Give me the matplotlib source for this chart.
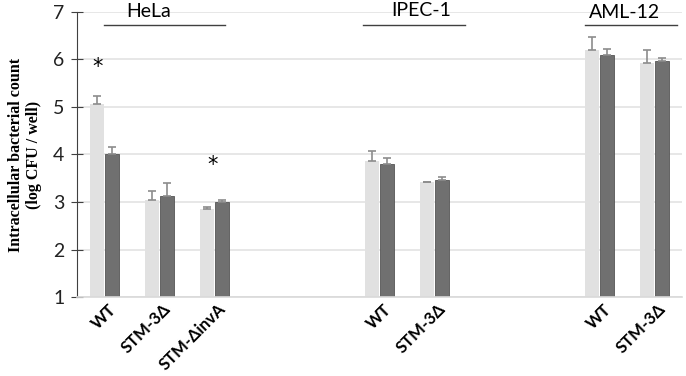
import matplotlib
matplotlib.use('Agg')
import matplotlib.pyplot as plt
import numpy as np

# slot positions (empty slots between cell lines)
positions = [0, 1, 2, 5, 6, 9, 10]
labels = ['WT', 'STM-3Δ', 'STM-ΔinvA', 'WT', 'STM-3Δ', 'WT', 'STM-3Δ']

light_vals = [5.07, 3.05, 2.85, 3.87, 3.42, 6.21, 5.93]
light_err = [0.17, 0.18, 0.04, 0.21, 0.01, 0.27, 0.28]
dark_vals = [4.02, 3.13, 3.00, 3.79, 3.46, 6.10, 5.97]
dark_err = [0.13, 0.27, 0.05, 0.14, 0.06, 0.13, 0.07]

groups = ['HeLa', 'IPEC-1', 'AML-12']
group_spans = [(0.0, 2.2), (4.7, 6.55), (8.74, 10.4)]
group_text_x = [0.8, 5.75, 9.45]
group_text_y = [7.0, 7.04, 6.98]

stars_x = [-0.12, 1.97]
stars_y = [5.84, 3.78]

sans = ['Lato', 'DejaVu Sans']

fig = plt.figure(figsize=(6.86, 3.76), dpi=100)
ax = fig.add_axes([0.1122, 0.2101, 0.882, 0.758])

x = np.array(positions, dtype=float)
w = 0.245
ax.bar(x - 0.135, light_vals, w, color='#e1e1e1', zorder=2)
ax.bar(x + 0.135, dark_vals, w, color='#707070', edgecolor='#555555', linewidth=0.6, zorder=2)
ax.errorbar(x - 0.135, light_vals, yerr=[np.zeros(len(light_err)), light_err], fmt='none',
            ecolor='#8c8c8c', elinewidth=1.2, capsize=3, capthick=1.2, zorder=3)
ax.errorbar(x + 0.135, dark_vals, yerr=[np.zeros(len(dark_err)), dark_err], fmt='none',
            ecolor='#8c8c8c', elinewidth=1.2, capsize=3, capthick=1.2, zorder=3)

ax.set_xlim(-0.5, 10.5)
ax.set_ylim(1, 7)
ax.set_yticks(range(1, 8))
ax.yaxis.grid(True, color='#e3e3e3', linewidth=1.2, zorder=0)
ax.set_axisbelow(True)

for s in ['top', 'right']:
    ax.spines[s].set_visible(False)
ax.spines['left'].set_color('#404040')
ax.spines['bottom'].set_color('#d9d9d9')
ax.spines['bottom'].set_linewidth(1.2)

ax.tick_params(axis='y', direction='inout', length=8, color='#404040', labelsize=14, pad=5,
               labelcolor='#222222')
ax.tick_params(axis='x', length=0, pad=3)
for t in ax.get_yticklabels():
    t.set_family(sans)

ax.set_xticks(x + 0.06)
ax.set_xticklabels(labels, rotation=45, ha='right', va='top', rotation_mode='anchor',
                   fontsize=12, fontweight='bold', family=sans)

ax.set_ylabel('Intracellular bacterial count\n(log CFU / well)', family='Liberation Serif',
              fontweight='bold', fontsize=11.5, labelpad=8)

for name, (a, b), tx, ty in zip(groups, group_spans, group_text_x, group_text_y):
    ax.plot([a, b], [6.73, 6.73], color='#404040', linewidth=1, clip_on=False)
    ax.text(tx, ty, name, ha='center', va='center', fontsize=14, family=sans)

for sx, sy in zip(stars_x, stars_y):
    ax.text(sx, sy, '*', ha='center', va='center', fontsize=15, family='DejaVu Sans')

fig.savefig('out.png', dpi=100)
